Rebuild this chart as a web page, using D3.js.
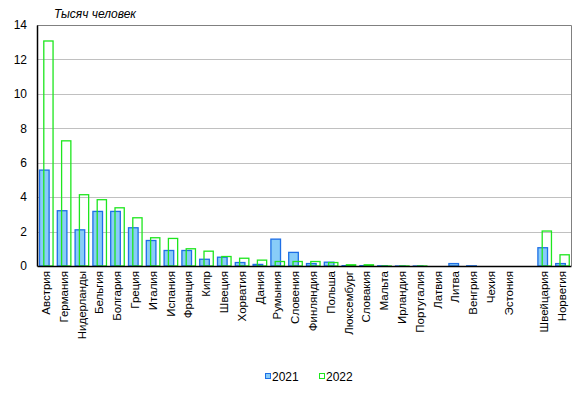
<!DOCTYPE html>
<html>
<head>
<meta charset="utf-8">
<script src="https://cdn.jsdelivr.net/npm/d3@7"></script>
<style>
  body { margin: 0; background: #fff; }
  text { font-family: Arial, "Liberation Sans", sans-serif; }
</style>
</head>
<body>
<div id="chart"></div>
<script>
// countries; '' is the gap between EU and the others
const countries = ['Австрия', 'Германия', 'Нидерланды', 'Бельгия', 'Болгария', 'Греция', 'Италия',
  'Испания', 'Франция', 'Кипр', 'Швеция', 'Хорватия', 'Дания', 'Румыния', 'Словения', 'Финляндия',
  'Польша', 'Люксембург', 'Словакия', 'Мальта', 'Ирландия', 'Португалия', 'Латвия', 'Литва',
  'Венгрия', 'Чехия', 'Эстония', '', 'Швейцария', 'Норвегия']
const values2021 = [5.6, 3.24, 2.13, 3.2, 3.2, 2.25, 1.51, 0.93, 0.93, 0.42, 0.54, 0.23, 0.12, 1.59,
  0.82, 0.17, 0.25, 0.05, 0.05, 0.04, 0.03, 0.03, 0.02, 0.17, 0.04, 0, 0, null, 1.09, 0.17]
const values2022 = [13.1, 7.3, 4.17, 3.88, 3.41, 2.83, 1.67, 1.63, 1.03, 0.89, 0.58, 0.48, 0.37, 0.29,
  0.29, 0.29, 0.23, 0.1, 0.1, 0.03, 0.03, 0.03, 0.02, 0.02, 0.02, 0, 0, null, 2.06, 0.68]
const yTicks = [0, 2, 4, 6, 8, 10, 12, 14]

const width = 586
const height = 393
const margin = { top: 25, right: 15, bottom: 127, left: 37 }
const plotW = width - margin.left - margin.right
const plotH = height - margin.top - margin.bottom

const svg = d3.select('#chart')
  .append('svg')
  .attr('width', width)
  .attr('height', height)

const g = svg.append('g').attr('transform', `translate(${margin.left},${margin.top})`)

const x = d3.scaleBand()
  .domain(d3.range(countries.length))
  .range([0, plotW])
  .padding(0)

const y = d3.scaleLinear().domain([0, 14]).range([plotH, 0])

// Gridlines
g.append('g')
  .selectAll('line')
  .data(yTicks.filter(t => t > 0))
  .join('line')
  .attr('x1', 0)
  .attr('x2', plotW)
  .attr('y1', d => Math.round(y(d)) + 0.5)
  .attr('y2', d => Math.round(y(d)) + 0.5)
  .attr('stroke', '#c0c0c0')

// Top and right border
g.append('path')
  .attr('d', `M0,0.5H${Math.round(plotW) + 0.5}V${plotH}`)
  .attr('fill', 'none')
  .attr('stroke', '#808080')

const bw = x.bandwidth()

// 2021 bars
g.append('g')
  .selectAll('rect')
  .data(values2021.map((v, i) => ({ v, i })).filter(d => d.v))
  .join('rect')
  .attr('x', d => x(d.i) + 2.5)
  .attr('width', bw * 0.54)
  .attr('y', d => y(d.v) + 0.5)
  .attr('height', d => Math.max(0, plotH - y(d.v) - 0.5))
  .attr('fill', '#88ccf8')
  .attr('stroke', '#1e6fe6')
  .attr('stroke-width', 1.3)

// 2022 bars (outline only)
g.append('g')
  .selectAll('rect')
  .data(values2022.map((v, i) => ({ v, i })).filter(d => d.v))
  .join('rect')
  .attr('x', d => x(d.i) + 6.8)
  .attr('width', bw * 0.52)
  .attr('y', d => y(d.v) + 0.5)
  .attr('height', d => Math.max(0, plotH - y(d.v) - 0.5))
  .attr('fill', 'none')
  .attr('stroke', '#1ee61e')
  .attr('stroke-width', 1.3)

// Y axis
const yAxis = g.append('g')
  .call(d3.axisLeft(y).tickValues(yTicks).tickSize(0).tickPadding(10))
yAxis.select('.domain').attr('stroke', '#000').attr('stroke-width', 1.5)
yAxis.selectAll('text').attr('font-size', '12px').attr('fill', '#000')

// X axis
const xAxis = g.append('g')
  .attr('transform', `translate(0,${plotH})`)
  .call(d3.axisBottom(x).tickSize(0).tickFormat(i => countries[i]))
xAxis.select('.domain').attr('stroke', '#000').attr('stroke-width', 1.5)
xAxis.selectAll('text')
  .attr('font-size', '11.5px')
  .attr('fill', '#000')
  .attr('text-anchor', 'end')
  .attr('transform', 'rotate(-90)')
  .attr('x', -5)
  .attr('y', 0)
  .attr('dy', '0.35em')

// Unit label
svg.append('text')
  .attr('x', 54)
  .attr('y', 18)
  .attr('font-size', '12px')
  .attr('font-style', 'italic')
  .attr('fill', '#000')
  .text('Тысяч человек')

// Legend
const legend = svg.append('g').attr('transform', 'translate(265,373)')
const items = [
  { label: '2021', fill: '#88ccf8', stroke: '#1e6fe6', dx: 0 },
  { label: '2022', fill: 'none', stroke: '#1ee61e', dx: 54 }
]
const li = legend.selectAll('g').data(items).join('g')
  .attr('transform', d => `translate(${d.dx},0)`)
li.append('rect')
  .attr('x', 0.5).attr('y', 0.5).attr('width', 5).attr('height', 5)
  .attr('fill', d => d.fill).attr('stroke', d => d.stroke)
li.append('text')
  .attr('x', 7).attr('y', 7.5)
  .attr('font-size', '12px')
  .attr('fill', '#000')
  .text(d => d.label)
</script>
</body>
</html>
